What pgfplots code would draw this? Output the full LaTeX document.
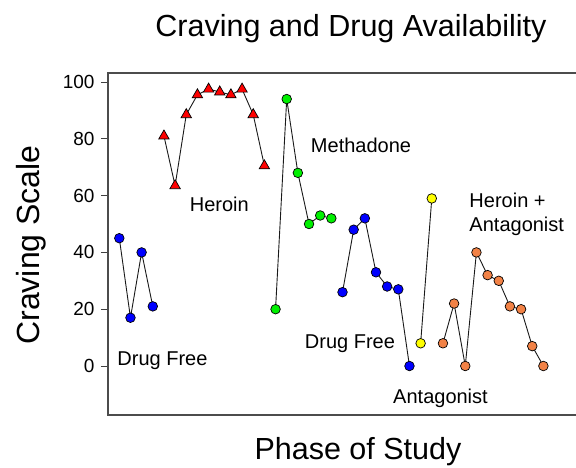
\documentclass[border=0pt]{standalone}
\usepackage{fontspec}
\setmainfont{Liberation Sans}
\usepackage{pgfplots}
\pgfplotsset{compat=1.18}
\definecolor{cblue}{RGB}{0,0,255}
\definecolor{cred}{RGB}{255,0,0}
\definecolor{cgreen}{RGB}{0,240,0}
\definecolor{cyellow}{RGB}{255,255,0}
\definecolor{corange}{RGB}{242,130,70}
\begin{document}
\begin{tikzpicture}
\useasboundingbox (-108pt,-52pt) rectangle (468pt,415pt);
\begin{axis}[
  at={(0,0)}, anchor=south west,
  scale only axis, width=472pt, height=342pt,
  xmin=-1.013, xmax=41.28, ymin=-17.25, ymax=103.17,
  xtick=\empty, ytick={0,20,...,100}, ytick pos=left,
  tick align=outside, major tick length=7pt,
  tick style={color=black!75, line width=1pt},
  axis line style={black!70, line width=1.2pt},
  yticklabel style={font=\fontsize{19}{22}\selectfont, xshift=-3pt},
  /pgf/number format/assume math mode=true,
  clip=false,
  every axis plot/.append style={line width=0.9pt, color=black!90},
  circ/.style={mark=*, mark size=4.8pt, mark options={draw=black, line width=0.7pt, fill=#1}},
  tri/.style={mark=triangle*, mark size=6pt, mark options={draw=black, line width=0.7pt, fill=#1}},
]
\addplot[circ=cblue] coordinates {(0,45) (1,17) (2,40) (3,21)};
\addplot[tri=cred] coordinates {(4,81) (5,63.5) (6,88.5) (7,95.5) (8,97.5) (9,96.5) (10,95.5) (11,97.5) (12,88.5) (13,70.5)};
\addplot[circ=cgreen] coordinates {(14,20) (15,94) (16,68) (17,50) (18,53) (19,52)};
\addplot[circ=cblue] coordinates {(20,26) (21,48) (22,52) (23,33) (24,28) (25,27) (26,0)};
\addplot[circ=cyellow] coordinates {(27,8) (28,59)};
\addplot[circ=corange] coordinates {(29,8) (30,22) (31,0) (32,40) (33,32) (34,30) (35,21) (36,20) (37,7) (38,0)};
\node[font=\fontsize{20}{24}\selectfont] at (axis cs:8.96,57) {Heroin};
\node[font=\fontsize{20}{24}\selectfont] at (axis cs:21.66,77.8) {Methadone};
\node[font=\fontsize{20}{24}\selectfont] at (axis cs:3.87,1.8) {Drug Free};
\node[font=\fontsize{20}{24}\selectfont] at (axis cs:20.67,7.7) {Drug Free};
\node[font=\fontsize{20}{24}\selectfont] at (axis cs:28.78,-11.3) {Antagonist};
\node[font=\fontsize{20}{24}\selectfont, anchor=west, align=left, inner sep=0pt] at (axis cs:31.36,53.5) {Heroin +\\Antagonist};
\end{axis}
\node[font=\fontsize{30.5}{36}\selectfont] at (243pt,386pt) {Craving and Drug Availability};
\node[font=\fontsize{32}{38}\selectfont, rotate=90] at (-77pt,170pt) {Craving Scale};
\node[font=\fontsize{30.5}{36}\selectfont] at (250pt,-37pt) {Phase of Study};
\end{tikzpicture}
\end{document}
